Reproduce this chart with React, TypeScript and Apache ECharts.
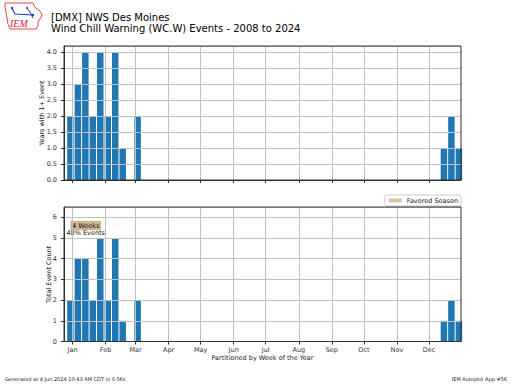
import React, { useEffect, useRef } from "react";
import * as echarts from "echarts";

// Week-of-year bins (0 = first week of January)
const weeks = [0, 1, 2, 3, 4, 5, 6, 7, 9, 50, 51, 52];
const yearsWithEvent = [2, 3, 4, 2, 4, 2, 4, 1, 2, 1, 2, 1];
const totalEvents = [2, 4, 4, 2, 5, 2, 5, 1, 2, 1, 2, 1];

// Month tick positions (day of year) and labels
const monthDays = [1, 32, 60, 91, 121, 152, 182, 213, 244, 274, 305, 335];
const monthLabels = ["Jan", "Feb", "Mar", "Apr", "May", "Jun", "Jul", "Aug", "Sep", "Oct", "Nov", "Dec"];

const favoredLabel = "4 Weeks\n48% Events";
const favoredStartDay = -1;
const favoredEndDay = 27.7;

const BLUE = "#1f77b4";
const TAN = "#d2b48c";
const FONT = "DejaVu Sans";

const weekCenter = (w: number) => 7 * w - 1;

export default function App() {
  const ref = useRef<HTMLDivElement>(null);
  useEffect(() => {
    if (!ref.current) return;
    const chart = echarts.init(ref.current, null, { renderer: "svg" });
    const topData = weeks.map((w, i) => [weekCenter(w), yearsWithEvent[i]]);
    const botData = weeks.map((w, i) => [weekCenter(w), totalEvents[i]]);

    const xAxisBase = (gridIndex: number, showLabels: boolean) => ({
      type: "value",
      gridIndex,
      min: -7,
      max: 365,
      z: 5,
      axisLine: { show: true, onZero: false, lineStyle: { color: "#333", width: 1 } },
      axisTick: { show: true, length: 3, customValues: monthDays, lineStyle: { color: "#333" } },
      axisLabel: {
        show: showLabels,
        customValues: monthDays,
        margin: 5,
        fontSize: 6.5,
        fontFamily: FONT,
        color: "#333",
        formatter: (v: number) => {
          const idx = monthDays.indexOf(Math.round(v));
          return idx >= 0 ? monthLabels[idx] : "";
        },
      },
      splitLine: { show: true, lineStyle: { color: "#c0c0c0", width: 1 } },
      name: showLabels ? "Partitioned by Week of the Year" : "",
      nameLocation: "middle",
      nameGap: 13,
      nameMoveOverlap: false,
      nameTextStyle: { fontSize: 6.5, fontFamily: FONT, color: "#222" },
    });

    const yAxisBase = (gridIndex: number, max: number, interval: number, name: string, nameGap: number, dec: number) => ({
      type: "value",
      gridIndex,
      min: 0,
      max,
      interval,
      z: 5,
      axisLine: { show: true, onZero: false, lineStyle: { color: "#333" } },
      axisTick: { show: true, length: 3, lineStyle: { color: "#333" } },
      axisLabel: {
        margin: 7,
        fontSize: 6.5,
        fontFamily: FONT,
        color: "#333",
        showMaxLabel: false,
        formatter: (v: number) => {
          const r = v / interval;
          if (Math.abs(r - Math.round(r)) > 1e-6) return "";
          return v.toFixed(dec);
        },
      },
      splitLine: { show: true, lineStyle: { color: "#c0c0c0", width: 1 } },
      name,
      nameLocation: "middle",
      nameGap,
      nameMoveOverlap: false,
      nameTextStyle: { fontSize: 6.5, fontFamily: FONT, color: "#222" },
    });

    chart.setOption({
      animation: false,
      backgroundColor: "#ffffff",
      textStyle: { fontFamily: FONT },
      grid: [
        { left: 64, right: 51, top: 46, height: 134, show: true, borderColor: "#333", borderWidth: 1, backgroundColor: "transparent", z: 6 },
        { left: 64, right: 51, top: 207, height: 134.5, show: true, borderColor: "#333", borderWidth: 1, backgroundColor: "transparent", z: 6 },
      ],
      legend: {
        data: ["Favored Season"],
        right: 51,
        top: 195,
        icon: "rect",
        itemWidth: 13,
        itemHeight: 4,
        padding: [2, 3, 2, 4],
        borderColor: "#cccccc",
        borderWidth: 1,
        borderRadius: 2,
        backgroundColor: "#fff",
        textStyle: { fontSize: 6.5, fontFamily: FONT, color: "#222" },
      },
      xAxis: [xAxisBase(0, false), xAxisBase(1, true)],
      yAxis: [
        yAxisBase(0, 4.2, 0.5, "Years with 1+ Event", 19, 1),
        yAxisBase(1, 6.5, 1, "Total Event Count", 12, 0),
      ],
      series: [
        {
          type: "bar",
          xAxisIndex: 0,
          yAxisIndex: 0,
          data: topData,
          barWidth: 6.5,
          itemStyle: { color: BLUE },
        },
        {
          type: "bar",
          xAxisIndex: 1,
          yAxisIndex: 1,
          data: botData,
          barWidth: 6.5,
          itemStyle: { color: BLUE },
        },
        {
          type: "scatter",
          name: "Favored Season",
          xAxisIndex: 1,
          yAxisIndex: 1,
          data: [],
          z: 10,
          itemStyle: { color: TAN },
          markArea: {
            silent: true,
            itemStyle: { color: TAN, opacity: 1 },
            label: {
              show: true,
              position: "inside",
              align: "center",
              offset: [0, 3.5],
              formatter: favoredLabel,
              fontSize: 6.5,
              lineHeight: 7,
              fontFamily: FONT,
              color: "#111",
            },
            data: [[{ xAxis: favoredStartDay, yAxis: 5.38 }, { xAxis: favoredEndDay, yAxis: 5.83 }]],
          },
        },
      ],
      graphic: [
        {
          type: "polygon",
          shape: {
            points: [[5, 3], [33, 3], [34, 6], [37, 9], [40, 11], [42, 15], [40, 19], [38, 22], [38, 26], [36, 29], [10, 29], [8, 24], [7, 18], [6, 12], [5, 7]],
          },
          style: { fill: "#fff", stroke: "#e0474c", lineWidth: 1 },
        },
        { type: "polyline", shape: { points: [[12, 8], [15, 14], [33, 15]] }, style: { stroke: "#2233cc", lineWidth: 1.2, fill: null } },
        { type: "polyline", shape: { points: [[27, 8], [30, 12], [33, 18]] }, style: { stroke: "#2233cc", lineWidth: 1, fill: null } },
        { type: "circle", shape: { cx: 12, cy: 8, r: 1.2 }, style: { fill: "#2233cc" } },
        { type: "circle", shape: { cx: 33, cy: 15, r: 1.2 }, style: { fill: "#2233cc" } },
        { type: "circle", shape: { cx: 27, cy: 8, r: 1 }, style: { fill: "#2233cc" } },
        {
          type: "text",
          x: 10,
          y: 18,
          style: { text: "IEM", fill: "#d02030", font: "italic 10px 'Liberation Serif', serif" },
        },
        {
          type: "text",
          x: 51,
          y: 12,
          style: { text: "[DMX] NWS Des Moines", fill: "#000", font: "10px 'DejaVu Sans'" },
        },
        {
          type: "text",
          x: 51,
          y: 23,
          style: { text: "Wind Chill Warning (WC.W) Events - 2008 to 2024", fill: "#000", font: "10px 'DejaVu Sans'" },
        },
        {
          type: "text",
          x: 5,
          y: 376,
          style: { text: "Generated at 4 Jun 2024 10:43 AM CDT in 0.56s", fill: "#222", font: "5px 'DejaVu Sans'" },
        },
        {
          type: "text",
          x: 507,
          y: 376,
          style: { text: "IEM Autoplot App #56", fill: "#222", font: "5px 'DejaVu Sans'", align: "right" },
        },
      ],
    });
    return () => chart.dispose();
  }, []);
  return <div ref={ref} style={{ width: 512, height: 384, position: "absolute", left: 0, top: 0 }} />;
}
